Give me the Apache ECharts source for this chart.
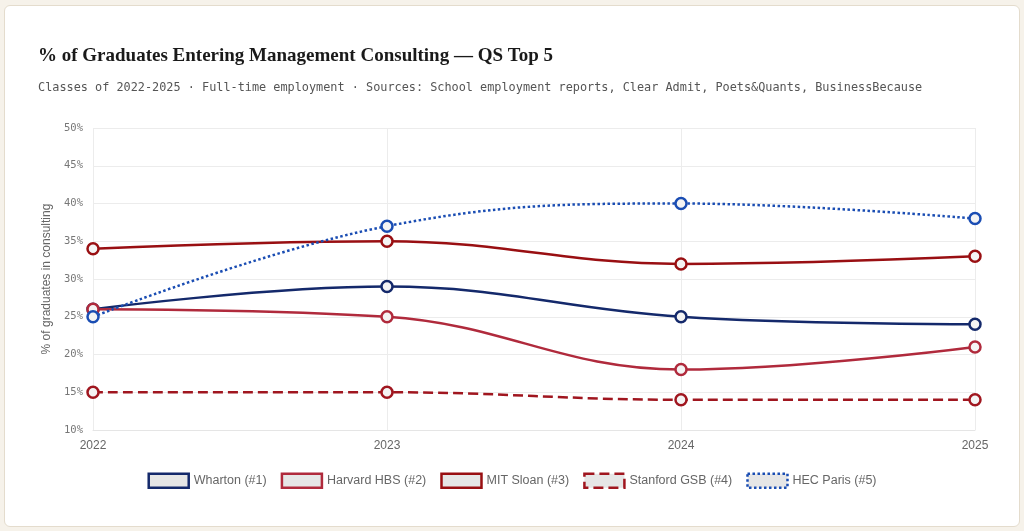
<!DOCTYPE html>
<html><head><meta charset="utf-8">
<script src="https://cdn.jsdelivr.net/npm/echarts@6/dist/echarts.min.js"></script>
<style>
html,body{margin:0;padding:0;background:#f6f2ea;width:1024px;height:531px;overflow:hidden}
#card{position:absolute;left:4px;top:5px;width:1014px;height:520px;background:#fff;border:1px solid #e4dccd;border-radius:6px}
#c{position:absolute;left:0;top:0;width:1024px;height:531px}
</style></head><body>
<div id="card"></div>
<div id="c"></div>
<script>
const years = ['2022','2023','2024','2025'];
const yTicks = [10,15,20,25,30,35,40,45,50];
const wharton = [26,29,25,24];
const harvard = [26,25,18,21];
const mit = [34,35,32,33];
const stanford = [15,15,14,14];
const hec = [25,37,40,38];
const names = ['Wharton (#1)','Harvard HBS (#2)','MIT Sloan (#3)','Stanford GSB (#4)','HEC Paris (#5)'];
const colors = ['#14296b','#b02a3c','#990f12','#a0161f','#1a4db3'];
const types = ['solid','solid','solid','dashed','dotted'];
const datas = [wharton,harvard,mit,stanford,hec];

const chart = echarts.init(document.getElementById('c'));
chart.setOption({
  animation:false,
  title:[{text:'% of Graduates Entering Management Consulting — QS Top 5',left:33,top:42,
    textStyle:{fontFamily:'Liberation Serif',fontWeight:'bold',fontSize:19,color:'#1a1a1a'}},
    {text:'Classes of 2022-2025 · Full-time employment · Sources: School employment reports, Clear Admit, Poets&Quants, BusinessBecause',
    left:33,top:77,textStyle:{fontFamily:'DejaVu Sans Mono',fontWeight:'normal',fontSize:11.85,color:'#555'}}],
  grid:{left:93,right:49,top:128,bottom:101,containLabel:false},
  legend:{bottom:37,left:'center',itemWidth:40,itemHeight:14,itemGap:14,
    textStyle:{fontFamily:'Liberation Sans',fontSize:12.5,color:'#666'},
    data:names.map((n,i)=>({name:n,icon:'rect',itemStyle:{color:'#e6e6e6',borderColor:colors[i],borderWidth:2.5,borderType:types[i]}}))},
  xAxis:{type:'category',data:years,boundaryGap:false,
    axisLine:{lineStyle:{color:'#e5e5e5'}},axisTick:{show:false},
    axisLabel:{color:'#666',fontFamily:'Liberation Sans',fontSize:12,margin:10},
    splitLine:{show:true,lineStyle:{color:'#ececec'}}},
  yAxis:{type:'value',min:yTicks[0],max:yTicks[yTicks.length-1],interval:5,
    name:'% of graduates in consulting',nameLocation:'middle',nameGap:40,
    nameTextStyle:{color:'#666',fontFamily:'Liberation Sans',fontSize:12},
    axisLine:{show:false},axisTick:{show:false},
    axisLabel:{formatter:'{value}%',color:'#777',fontFamily:'DejaVu Sans Mono',fontSize:10.5,margin:10},
    splitLine:{lineStyle:{color:'#ececec'}}},
  series:datas.map((d,i)=>({name:names[i],type:'line',data:d,smooth:0.4,
    symbol:'circle',symbolSize:11,
    lineStyle:{color:colors[i],width:2.5,type:types[i]},
    itemStyle:{color:'#f4f4f4',borderColor:colors[i],borderWidth:2.5}}))
});
</script></body></html>
